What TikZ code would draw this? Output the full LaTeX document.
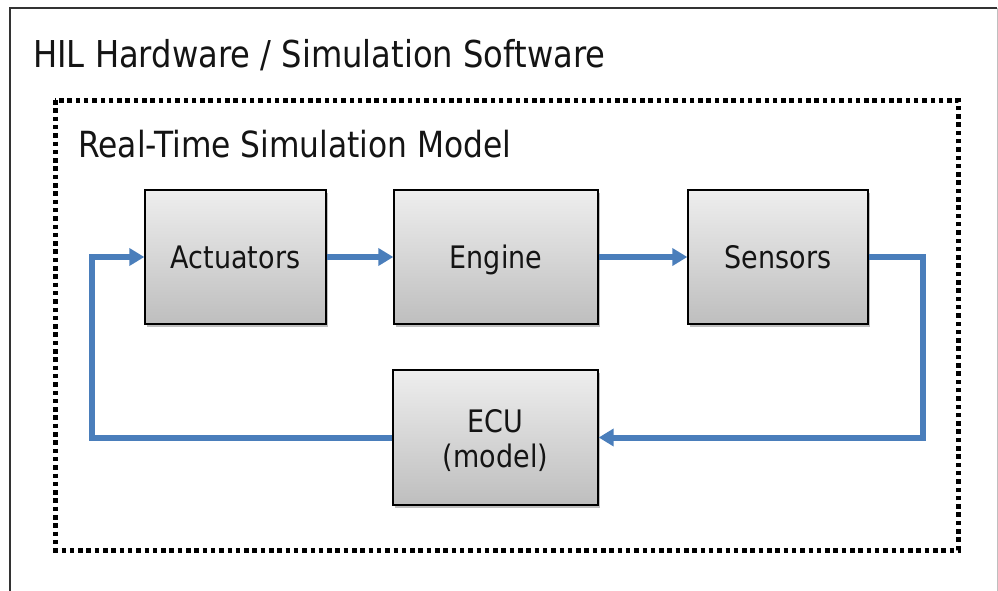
\documentclass[tikz,border=0pt]{standalone}
\usepackage{fontspec}
\setmainfont{DejaVu Sans}[FakeStretch=0.87]
\usetikzlibrary{arrows.meta,shadows}
\definecolor{flowblue}{HTML}{4A7EBB}
\definecolor{boxtop}{HTML}{EEEEEE}
\definecolor{boxbot}{HTML}{BEBEBE}
\definecolor{txt}{HTML}{141414}
\tikzset{
  blockbox/.style={draw=black, line width=1.4pt, top color=boxtop, bottom color=boxbot,
    drop shadow={shadow xshift=2pt, shadow yshift=-3pt, opacity=0.25, fill=black},
    font=\fontsize{31}{37}\selectfont, text=txt, text height=22pt, text depth=0pt,
    align=center, inner sep=0pt},
  flow/.style={draw=flowblue, line width=6pt, line join=miter,
    -{Triangle[length=15pt,width=17pt]}},
  titletext/.style={anchor=base west, inner sep=0pt, text=txt},
}
\begin{document}
\begin{tikzpicture}[x=1pt,y=-1pt]
\useasboundingbox (0,0) rectangle (998,590);
% outer frame
\coordinate (otl) at (10,8);
\draw[line width=2pt, draw=black!80] (10,600) -- (otl) -- (997,8);
\draw[line width=1pt, draw=black!25] (997,8) -- (997,600);
\node[titletext, font=\fontsize{37}{44}\selectfont] (hil) at (33,67) {HIL Hardware / Simulation Software};
% dotted frame
\draw[line width=5pt, dash pattern=on 4.5pt off 3.8pt, draw=black] (55,100) rectangle (958,550);
\node[titletext, font=\fontsize{36}{43}\selectfont] (rts) at (78,157) {Real-Time Simulation Model};
% blocks
\node[blockbox, minimum width=181pt, minimum height=134pt] (act) at (235.5,257) {Actuators};
\node[blockbox, minimum width=204pt, minimum height=134pt] (eng) at (496,257) {Engine};
\node[blockbox, minimum width=180pt, minimum height=134pt] (sen) at (778,257) {Sensors};
\node[blockbox, minimum width=205pt, minimum height=135pt, text height=60pt] (ecu) at (495.5,437.5) {ECU\\[-2pt](model)};
% connectors
\coordinate (rc) at (923,437.5);
\coordinate (lc) at (92,257);
\draw[flow] (act.east) -- (eng.west);
\draw[flow] (eng.east) -- (sen.west);
\draw[flow] (sen.east) -| (rc) -- (ecu.east);
\draw[flow] (ecu.west) -| (lc) -- (act.west);
\end{tikzpicture}
\end{document}
